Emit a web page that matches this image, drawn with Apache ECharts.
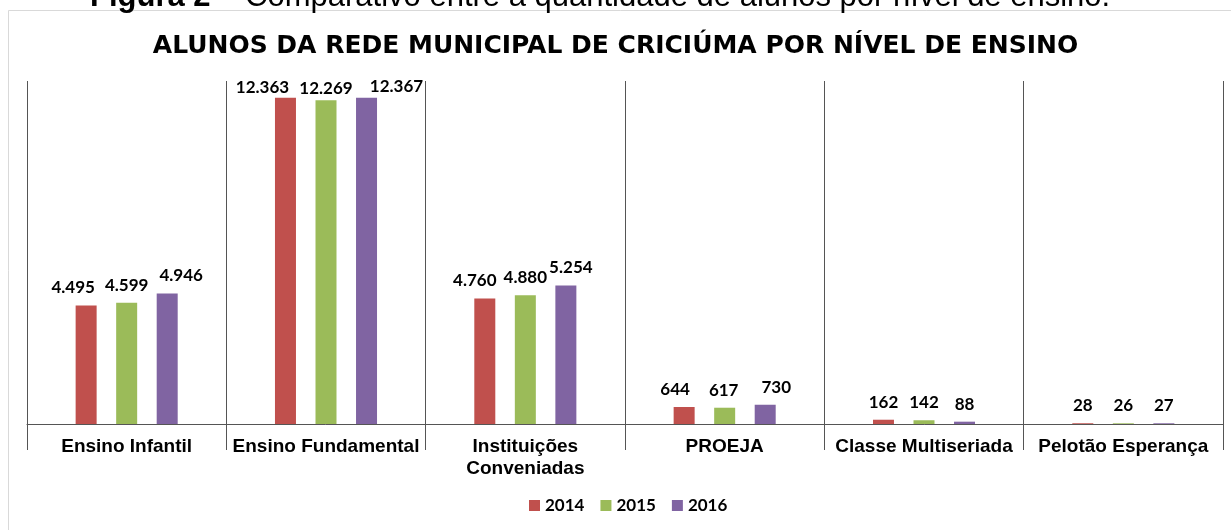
<!DOCTYPE html>
<html>
<head>
<meta charset="utf-8">
<script src="https://cdn.jsdelivr.net/npm/echarts@6/dist/echarts.min.js"></script>
<style>
html,body{margin:0;padding:0;background:#fff;}
#chart{width:1231px;height:530px;}
</style>
</head>
<body>
<div id="chart"></div>
<script>
const categories = ['Ensino Infantil', 'Ensino Fundamental', 'Instituições\nConveniadas', 'PROEJA', 'Classe Multiseriada', 'Pelotão Esperança'];
const years = ['2014', '2015', '2016'];
const values2014 = [4495, 12363, 4760, 644, 162, 28];
const values2015 = [4599, 12269, 4880, 617, 142, 26];
const values2016 = [4946, 12367, 5254, 730, 88, 27];
const colors = ['#C0504D', '#9BBB59', '#8064A2'];
const chartTitle = 'ALUNOS DA REDE MUNICIPAL DE CRICIÚMA POR NÍVEL DE ENSINO';
const captionBold = 'Figura 2 –';
const captionText = ' Comparativo entre a quantidade de alunos por nível de ensino.';

// label placement tweaks (styling only, not data)
const labelShiftX = [
  [-13, -23, -10, -9, 0, 0],
  [0, 0, 0, -1, 0, 0],
  [14, 30, 5, 11, 0, 0]
];
const labelShiftY = [
  [0, 7, 0, 0, 0, 0],
  [0, 6, 0, 0, 0, 0],
  [0, 6, 0, 0, 0, 0]
];

const lineColor = '#555555';
function fmt(v) {
  return String(v).replace(/\B(?=(\d{3})+(?!\d))/g, '.');
}
const seriesData = [values2014, values2015, values2016];

const chart = echarts.init(document.getElementById('chart'), null, {renderer: 'canvas'});
chart.setOption({
  animation: false,
  backgroundColor: '#ffffff',
  title: {
    text: chartTitle,
    left: 'center',
    top: 29,
    textStyle: {fontFamily: 'DejaVu Sans', fontWeight: 'bold', fontSize: 25, color: '#000'}
  },
  graphic: [
    {
      type: 'rect',
      shape: {x: 8.5, y: 10.5, width: 1240, height: 540},
      style: {fill: 'none', stroke: '#d9d9d9', lineWidth: 1},
      silent: true
    },
    {
      type: 'text',
      x: 90,
      y: 12.5,
      style: {
        text: '{b|' + captionBold + '}' + captionText,
        verticalAlign: 'bottom',
        fontFamily: 'Liberation Sans',
        fontSize: 31,
        fill: '#000',
        rich: {b: {fontFamily: 'Liberation Sans', fontSize: 31, fontWeight: 'bold', fill: '#000'}}
      },
      silent: true
    }
  ],
  legend: {
    data: years,
    left: 529,
    top: 497,
    padding: 0,
    itemWidth: 11,
    itemHeight: 11,
    itemGap: 16,
    icon: 'rect',
    textStyle: {fontFamily: 'Lato', fontWeight: 'bold', fontSize: 17, color: '#000', padding: [0, 0, 0, 0]}
  },
  grid: {left: 27, right: 8, top: 81, bottom: 106, containLabel: false},
  xAxis: {
    type: 'category',
    data: categories,
    axisLine: {show: true, lineStyle: {color: lineColor, width: 1}},
    axisTick: {show: true, length: 26, lineStyle: {color: lineColor, width: 1}},
    splitLine: {show: true, lineStyle: {color: lineColor, width: 1}},
    axisLabel: {
      interval: 0,
      margin: 12,
      fontFamily: 'Liberation Sans',
      fontWeight: 'bold',
      fontSize: 19,
      lineHeight: 22,
      color: '#000'
    }
  },
  yAxis: {
    type: 'value',
    min: 0,
    max: 13000,
    axisLine: {show: false},
    axisTick: {show: false},
    axisLabel: {show: false},
    splitLine: {show: false}
  },
  series: years.map((y, i) => ({
    name: y,
    type: 'bar',
    data: seriesData[i].map((v, j) => ({
      value: v,
      label: {offset: [labelShiftX[i][j], labelShiftY[i][j]]}
    })),
    barWidth: 21,
    barGap: '93%',
    itemStyle: {color: colors[i]},
    label: {
      show: true,
      position: 'top',
      distance: 9,
      formatter: p => fmt(p.value),
      fontFamily: 'Lato',
      fontWeight: 'bold',
      fontSize: 17,
      color: '#000'
    }
  }))
});
</script>
</body>
</html>
